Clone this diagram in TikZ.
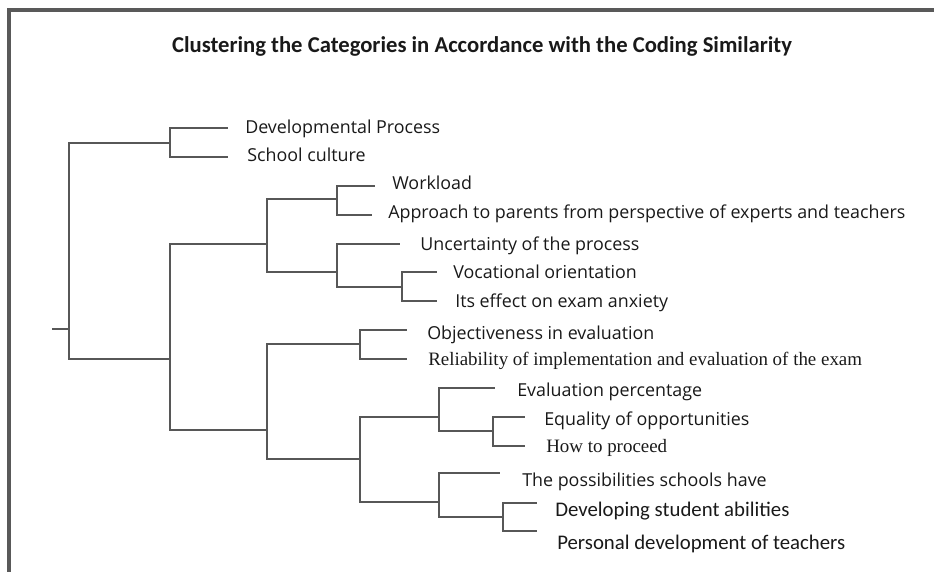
\documentclass[tikz,border=0pt]{standalone}
\usepackage{fontspec}
\setmainfont{Open Sans}
\newfontfamily\calibrifont{Carlito}
\newfontfamily\serifroman{Liberation Serif}
\definecolor{treeline}{gray}{0.34}
\definecolor{labeltext}{gray}{0.1}
\tikzset{
  branch/.style={line width=2.2pt, color=treeline},
  leaflabel/.style={anchor=mid west, inner sep=0pt, text=labeltext, font=\fontsize{13.4}{14}\selectfont},
  calibrilabel/.style={leaflabel, font=\calibrifont\fontsize{15.6}{16}\selectfont},
  timeslabel/.style={leaflabel, font=\serifroman\fontsize{14.2}{15}\selectfont}
}
\begin{document}
\begin{tikzpicture}[x=0.75pt, y=-0.75pt]
  \useasboundingbox (0,0) rectangle (934,572);
  % frame
  \draw[line width=2.4pt, color=gray!70!black] (934,10) -- (9,10) -- (9,572);
  \node[font=\calibrifont\bfseries\fontsize{17}{18}\selectfont, text=labeltext] (title) at (482,46)
    {Clustering the Categories in Accordance with the Coding Similarity};
  % junctions
  \coordinate (stub) at (52,329);
  \coordinate (r) at (69,329);
  \coordinate (a) at (170,143);
  \coordinate (b) at (170,359);
  \coordinate (c) at (267,244);
  \coordinate (d) at (267,430);
  \coordinate (e) at (337,199);
  \coordinate (f) at (337,272);
  \coordinate (g) at (402,287);
  \coordinate (h) at (360,344);
  \coordinate (i) at (360,459);
  \coordinate (k) at (439,417);
  \coordinate (m) at (439,502);
  \coordinate (n) at (493,431);
  \coordinate (p) at (503,517);
  % leaf ends
  \coordinate (dev) at (228,128);
  \coordinate (cul) at (228,157);
  \coordinate (wor) at (375,186);
  \coordinate (app) at (372,215);
  \coordinate (unc) at (400,244);
  \coordinate (voc) at (437,272);
  \coordinate (eff) at (437,301);
  \coordinate (obj) at (407,330);
  \coordinate (rel) at (407,359);
  \coordinate (evp) at (495,388);
  \coordinate (equ) at (525,417);
  \coordinate (how) at (525,446);
  \coordinate (pos) at (500,473);
  \coordinate (dsa) at (537,503);
  \coordinate (pdt) at (537,531);
  % tree
  \draw[branch] (stub) -- (r);
  \draw[branch] (r) |- (a);  \draw[branch] (r) |- (b);
  \draw[branch] (a) |- (dev); \draw[branch] (a) |- (cul);
  \draw[branch] (b) |- (c);  \draw[branch] (b) |- (d);
  \draw[branch] (c) |- (e);  \draw[branch] (c) |- (f);
  \draw[branch] (e) |- (wor); \draw[branch] (e) |- (app);
  \draw[branch] (f) |- (unc); \draw[branch] (f) |- (g);
  \draw[branch] (g) |- (voc); \draw[branch] (g) |- (eff);
  \draw[branch] (d) |- (h);  \draw[branch] (d) |- (i);
  \draw[branch] (h) |- (obj); \draw[branch] (h) |- (rel);
  \draw[branch] (i) |- (k);  \draw[branch] (i) |- (m);
  \draw[branch] (k) |- (evp); \draw[branch] (k) |- (n);
  \draw[branch] (n) |- (equ); \draw[branch] (n) |- (how);
  \draw[branch] (m) |- (pos); \draw[branch] (m) |- (p);
  \draw[branch] (p) |- (dsa); \draw[branch] (p) |- (pdt);
  % labels
  \node[leaflabel] (devl) at (245,130) {Developmental Process};
  \node[leaflabel] (cull) at (247,158) {School culture};
  \node[leaflabel] (worl) at (392,186) {Workload};
  \node[leaflabel] (appl) at (388,215) {Approach to parents from perspective of experts and teachers};
  \node[leaflabel] (uncl) at (420,247) {Uncertainty of the process};
  \node[leaflabel] (vocl) at (453,275) {Vocational orientation};
  \node[leaflabel] (effl) at (455,304) {Its effect on exam anxiety};
  \node[leaflabel] (objl) at (427,336) {Objectiveness in evaluation};
  \node[timeslabel] (rell) at (428,362) {Reliability of implementation and evaluation of the exam};
  \node[leaflabel] (evpl) at (517,393) {Evaluation percentage};
  \node[leaflabel] (equl) at (544,422) {Equality of opportunities};
  \node[timeslabel] (howl) at (546,449) {How to proceed};
  \node[leaflabel] (posl) at (522,483) {The possibilities schools have};
  \node[calibrilabel] (dsal) at (555,513) {Developing student abilities};
  \node[calibrilabel] (pdtl) at (557,546) {Personal development of teachers};
\end{tikzpicture}
\end{document}
